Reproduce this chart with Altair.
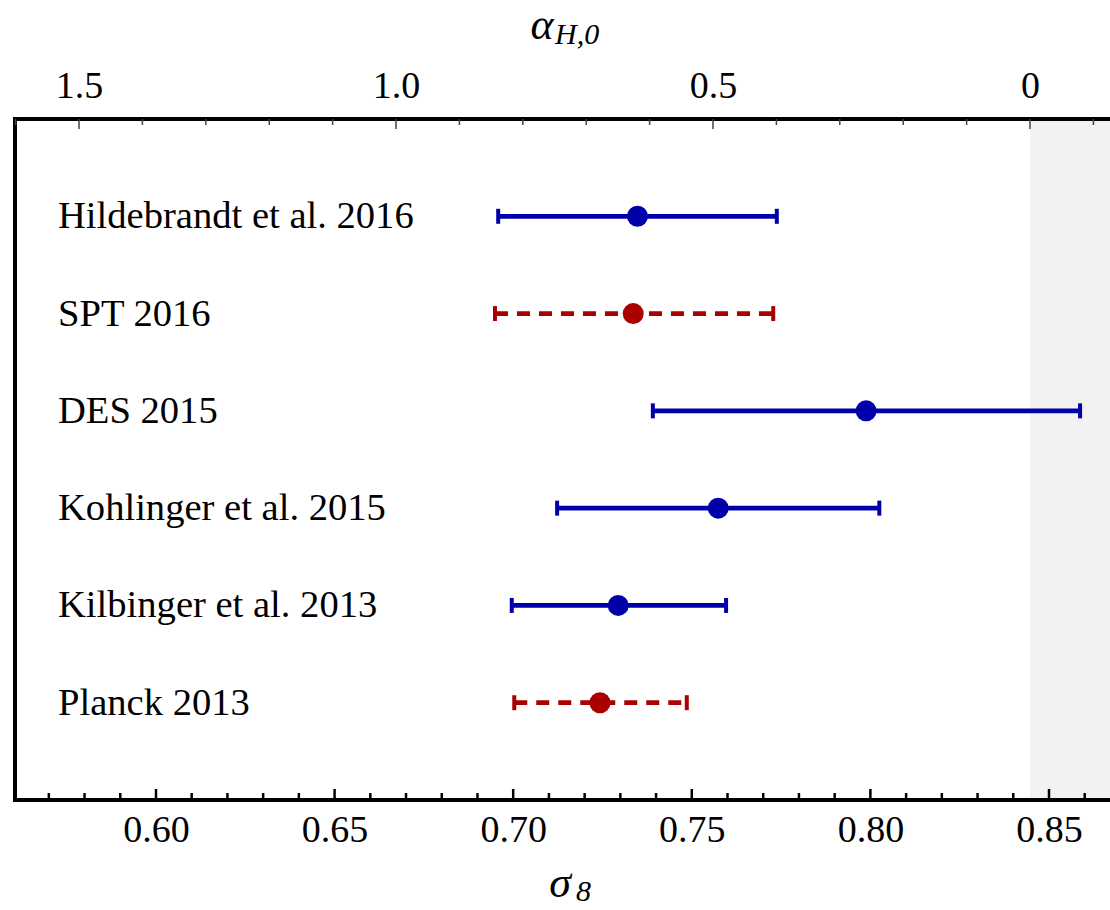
import altair as alt
import pandas as pd

# ---- data ----
names = ["Hildebrandt et al. 2016", "SPT 2016", "DES 2015",
         "Kohlinger et al. 2015", "Kilbinger et al. 2013", "Planck 2013"]
centers = [0.7348, 0.7336, 0.7988, 0.7574, 0.7294, 0.7243]
lows = [0.6958, 0.6949, 0.7391, 0.7123, 0.6996, 0.7003]
highs = [0.7738, 0.7728, 0.8587, 0.8025, 0.7596, 0.7486]
styles = ["solid", "dashed", "solid", "solid", "solid", "dashed"]

sigma_domain = [0.56053, 0.86708]
alpha_domain = [-0.1262, 1.601]          # top axis, reversed
shade_start = 0.8447                     # alpha_H,0 = 0 line

sigma_major = [0.60, 0.65, 0.70, 0.75, 0.80, 0.85]
sigma_minor = [0.57, 0.58, 0.59, 0.61, 0.62, 0.63, 0.64, 0.66, 0.67, 0.68, 0.69,
               0.71, 0.72, 0.73, 0.74, 0.76, 0.77, 0.78, 0.79, 0.81, 0.82, 0.83,
               0.84, 0.86]
alpha_major = [1.5, 1.0, 0.5, 0.0]
alpha_minor = [1.6, 1.4, 1.3, 1.2, 1.1, 0.9, 0.8, 0.7, 0.6, 0.4, 0.3, 0.2, 0.1, -0.1]

W, H = 1095, 681
FONT = "Liberation Serif"
BLUE = "#0000AA"
RED = "#AA0000"

df = pd.DataFrame({"name": names, "center": centers, "low": lows,
                   "high": highs, "style": styles})

xs = alt.Scale(domain=sigma_domain, nice=False, zero=False)
ys = alt.Scale(type="point", domain=names, padding=1)
color = alt.Color("style:N", scale=alt.Scale(domain=["solid", "dashed"], range=[BLUE, RED]), legend=None)
dash = alt.StrokeDash("style:N", scale=alt.Scale(domain=["solid", "dashed"], range=[[1, 0], [13, 9]]), legend=None)

base = alt.Chart(df)

shade = alt.Chart(pd.DataFrame({"a": [shade_start], "b": [sigma_domain[1]]})).mark_rect(
    color="#f2f2f2").encode(
    x=alt.X("a:Q", scale=xs, axis=alt.Axis(
        orient="bottom", values=sigma_major, format=".2f", ticks=False, domain=False,
        grid=False, labelPadding=11, title=None, labelFont=FONT, labelFontSize=38,
        labelColor="black")),
    x2="b:Q",
    y=alt.value(0), y2=alt.value(H))

bars = base.mark_rule(strokeWidth=4.8, opacity=1).encode(
    x=alt.X("low:Q", scale=xs), x2="high:Q",
    y=alt.Y("name:N", scale=ys, axis=None), color=color, strokeDash=dash)

caps_lo = base.mark_tick(thickness=4, size=15, opacity=1).encode(
    x=alt.X("low:Q", scale=xs), y=alt.Y("name:N", scale=ys, axis=None), color=color)
caps_hi = base.mark_tick(thickness=4, size=15, opacity=1).encode(
    x=alt.X("high:Q", scale=xs), y=alt.Y("name:N", scale=ys, axis=None), color=color)

points = base.mark_point(filled=True, shape="circle", size=441, opacity=1).encode(
    x=alt.X("center:Q", scale=xs), y=alt.Y("name:N", scale=ys, axis=None), color=color)

labels = base.mark_text(align="left", baseline="middle", font=FONT, fontSize=38.6,
                        color="black").encode(
    x=alt.value(43), y=alt.Y("name:N", scale=ys, axis=None), text="name:N")

bmaj = alt.Chart(pd.DataFrame({"v": sigma_major})).mark_rule(color="black", strokeWidth=2.5).encode(
    x=alt.X("v:Q", scale=xs), y=alt.value(H), y2=alt.value(H - 11))
bmin = alt.Chart(pd.DataFrame({"v": sigma_minor})).mark_rule(color="black", strokeWidth=2.5).encode(
    x=alt.X("v:Q", scale=xs), y=alt.value(H), y2=alt.value(H - 7))

one = pd.DataFrame({"t": ["x"]})
frame_left = alt.Chart(one).mark_rule(color="black", strokeWidth=4).encode(
    x=alt.value(0), y=alt.value(-2), y2=alt.value(H + 2))
frame_top = alt.Chart(one).mark_rule(color="black", strokeWidth=4).encode(
    x=alt.value(-2), x2=alt.value(W + 5), y=alt.value(0))
frame_bot = alt.Chart(one).mark_rule(color="black", strokeWidth=4).encode(
    x=alt.value(-2), x2=alt.value(W + 5), y=alt.value(H))

sig_title = alt.Chart(pd.DataFrame({"t": ["σ"]})).mark_text(
    font=FONT, fontSize=44, fontStyle="italic", align="center", baseline="middle").encode(
    x=alt.value(545), y=alt.value(765), text="t:N")
sig_sub = alt.Chart(pd.DataFrame({"t": ["8"]})).mark_text(
    font=FONT, fontSize=30, fontStyle="italic", align="left", baseline="middle").encode(
    x=alt.value(561), y=alt.value(773), text="t:N")

sigma_layer = alt.layer(shade, bars, caps_lo, caps_hi, points, labels, bmaj, bmin,
                        frame_left, frame_top, frame_bot, sig_title, sig_sub)

ascale = alt.Scale(domain=alpha_domain, nice=False, zero=False, reverse=True)
amaj = alt.Chart(pd.DataFrame({"v": alpha_major})).mark_rule(color="#444444", strokeWidth=1.5).encode(
    x=alt.X("v:Q", scale=ascale, axis=alt.Axis(
        orient="top", values=alpha_major, ticks=False, domain=False, grid=False,
        labelPadding=14, title=None, labelFont=FONT, labelFontSize=38, labelColor="black",
        labelExpr="datum.value == 0 ? '0' : format(datum.value, '.1f')")),
    y=alt.value(0), y2=alt.value(10))
amin = alt.Chart(pd.DataFrame({"v": alpha_minor})).mark_rule(color="#444444", strokeWidth=1.5).encode(
    x=alt.X("v:Q", scale=ascale), y=alt.value(0), y2=alt.value(6))

a_title = alt.Chart(pd.DataFrame({"t": ["α"]})).mark_text(
    font=FONT, fontSize=44, fontStyle="italic", align="center", baseline="middle").encode(
    x=alt.value(527), y=alt.value(-93), text="t:N")
a_sub = alt.Chart(pd.DataFrame({"t": ["H,0"]})).mark_text(
    font=FONT, fontSize=30, fontStyle="italic", align="left", baseline="middle").encode(
    x=alt.value(540), y=alt.value(-84), text="t:N")

alpha_layer = alt.layer(amaj, amin, a_title, a_sub)

chart = alt.layer(sigma_layer, alpha_layer).resolve_scale(x="independent").properties(
    width=W, height=H,
    autosize=alt.AutoSizeParams(type="none"),
    padding={"left": 15, "top": 119, "right": 0, "bottom": 106},
).configure_view(stroke=None).configure(background="white")

chart.save("out.html", embed_options={"renderer": "svg", "actions": False})
